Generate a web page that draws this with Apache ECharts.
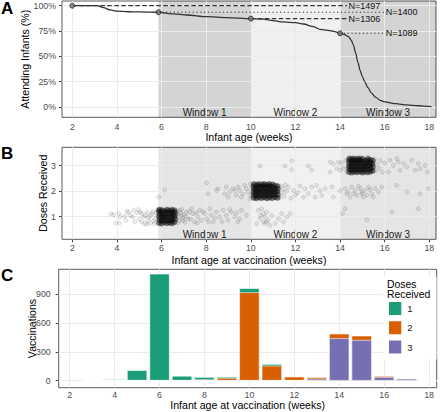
<!DOCTYPE html>
<html><head><meta charset="utf-8">
<script src="https://cdn.jsdelivr.net/npm/echarts@6/dist/echarts.min.js"></script>
<style>html,body{margin:0;padding:0;background:#fff}#c{width:440px;height:412px}</style>
</head><body><div id="c"></div>
<script>
const FONT = '"Liberation Sans", Arial, Helvetica, sans-serif';

// ---------- Panel A: attendance curve ----------
const curveWeeks = [2,2.5,3.1,3.4,3.7,4,4.5,5,5.86,6.53,7.13,8.02,8.92,10,10.55,11,11.45,12,12.36,12.8,13.1,13.47,13.77,14,14.2,14.4,14.5,14.6,14.7,14.8,14.9,15,15.1,15.25,15.4,15.6,15.8,16,16.5,17,17.5,18,18.1];
const curvePct   = [100,100,100,98,95.8,94.6,94,93.8,93.5,91.8,90.8,89.1,88.2,87.2,86.8,85.2,83.9,83.2,81.9,79.3,76.6,75.7,74.3,72.7,71.5,69,66,61,53,44,36,30,25,19,14,9.5,6.5,5,3.2,2,1.2,0.5,0.3];
const milestoneWeeks = [2, 5.86, 10, 14];
const milestonePct   = [100, 93.5, 87.2, 72.7];
const milestoneN     = [1497, 1400, 1306, 1089];
const windowNames  = ['Window 1','Window 2','Window 3'];
const windowStarts = [5.86, 10, 14];
const windowEnds   = [10, 14, 18.68];

// ---------- tick labels ----------
const xTicks  = [2,4,6,8,10,12,14,16,18];
const yTicksA = [0,25,50,75,100];
const yTicksB = [1,2,3];
const yTicksC = [0,300,600,900];

// ---------- Panel B: individual vaccinations (age, jittered dose) ----------
const dose1Pts = [[3.73,1.11],[3.85,1.08],[4.08,1.12],[4.15,0.99],[3.93,0.75],[4.11,0.75],[4.35,1.02],[4.4,0.85],[4.45,1.2],[4.53,1.18],[4.6,1.05],[4.71,0.99],[4.75,1.25],[4.8,0.8],[4.9,1.15],[4.97,1.28],[5.0,0.9],[5.05,1.18],[5.12,1.12],[5.12,0.79],[5.2,0.99],[5.24,0.73],[5.27,1.05],[5.35,1.18],[5.35,0.7],[5.39,0.86],[5.42,0.99],[5.5,1.05],[5.5,0.75],[5.57,1.12],[5.6,1.2],[5.65,0.83],[5.68,0.72],[5.72,0.92],[5.75,1.15],[5.8,1.05],[5.8,1.25],
[6.65,0.9],[6.68,1.22],[6.7,1.1],[6.72,0.76],[6.75,1.0],[6.8,0.85],[6.81,1.25],[6.85,1.15],[6.89,1.05],[6.9,1.28],[6.95,0.95],[6.96,0.86],[7.0,1.08],[7.05,0.78],[7.1,1.0],[7.11,1.18],[7.19,0.92],[7.25,1.2],[7.3,0.9],[7.34,1.31],[7.41,1.12],[7.48,0.79],[7.55,1.15],[7.6,0.75],[7.63,0.99],[7.71,1.25],[7.78,0.86],[7.85,1.2],[7.93,1.12],[8.01,0.92],[8.1,0.8],[8.16,1.31],[8.23,1.05],[8.31,0.79],[8.4,0.95],[8.46,1.18],[8.61,0.99],[8.7,0.8],[8.76,1.25],[8.9,1.05],[8.98,0.86],[9.05,1.28],[9.13,1.18],[9.28,0.99],[9.35,1.15],[9.43,0.79],[9.5,0.92],[9.58,1.25],[9.8,1.05],
[10.26,0.73],[10.34,1.25],[10.41,0.92],[10.49,1.31],[10.56,1.12],[10.56,0.79],[10.64,0.99],[10.64,0.73],[10.71,1.18],[10.79,0.86],[10.86,0.66],[10.94,1.05],[11.09,0.73],[11.24,0.92],[11.38,1.12],[11.46,0.79],[11.61,0.99],[11.76,1.12],[10.45,1.05],[10.7,0.8],
[14.12,1.12],[14.22,1.31],[15.2,0.88],[16.32,1.18],[17.51,1.31]];
const dose1Core = [[5.88,0.75],[5.9,0.87],[5.89,0.99],[5.91,1.1],[5.88,1.21],[5.9,1.28],
[6.0,0.73],[6.01,0.84],[6.0,0.95],[6.02,1.06],[6.0,1.17],[6.01,1.26],
[6.12,0.78],[6.13,0.89],[6.11,1.0],[6.13,1.12],[6.12,1.23],
[6.24,0.74],[6.25,0.85],[6.23,0.97],[6.25,1.08],[6.24,1.19],[6.25,1.28],
[6.36,0.77],[6.37,0.88],[6.35,1.01],[6.37,1.13],[6.36,1.24],
[6.47,0.74],[6.48,0.86],[6.47,0.97],[6.49,1.07],[6.48,1.18],[6.47,1.27],
[6.58,0.79],[6.6,0.92],[6.59,1.04],[6.61,1.15],[6.58,1.25]];
const dose2Pts = [[5.87,1.77],[6.14,2.06],[8.01,2.32],[8.08,1.9],[8.46,2.03],[8.53,2.1],[8.83,1.9],[8.9,2.16],[8.98,1.77],[9.05,1.97],[9.2,2.1],[9.28,2.03],[9.35,1.84],[9.43,2.16],[9.5,2.03],[9.58,1.77],[9.65,1.9],[9.73,2.23],[9.8,2.1],[9.88,1.97],[9.95,1.71],[9.98,2.28],[10.0,1.85],[10.05,2.1],
[11.3,1.75],[11.35,2.2],[11.4,1.95],[11.45,2.1],[11.5,1.8],[11.55,2.25],[11.6,2.0],[11.68,2.16],[11.8,1.72],[11.91,2.03],[12.0,1.85],[12.1,1.95],[12.2,2.2],[12.36,1.77],[12.43,2.1],[12.58,1.9],[12.73,2.16],[12.88,1.77],[12.95,2.23],[13.1,2.03],[13.18,1.84],[13.33,2.1],[13.63,2.16],[13.7,1.77],[14.0,2.03],
[14.22,2.1],[14.3,1.9],[14.37,1.97],[14.45,1.77],[14.52,2.16],[14.6,1.9],[14.67,2.03],[14.75,1.84],[14.82,2.19],[14.9,2.1],[14.97,1.9],[14.97,1.97],[15.05,1.77],[15.12,2.03],[15.2,1.84],[15.27,2.16],[15.34,2.06],[15.42,1.9],[15.49,1.77],[15.57,2.1],[15.72,1.97],[15.87,2.16],
[16.54,2.23],[16.99,1.97],[17.59,1.9],[17.96,2.1]];
const dose2Core = [[10.12,1.74],[10.13,1.86],[10.12,1.97],[10.14,2.08],[10.12,2.19],[10.13,2.28],
[10.24,1.72],[10.25,1.82],[10.23,1.93],[10.25,2.04],[10.24,2.15],[10.25,2.25],
[10.36,1.75],[10.37,1.87],[10.35,1.98],[10.37,2.09],[10.36,2.2],[10.35,2.28],
[10.48,1.73],[10.49,1.84],[10.47,1.95],[10.49,2.06],[10.48,2.17],[10.49,2.27],
[10.6,1.76],[10.61,1.87],[10.59,1.99],[10.61,2.1],[10.6,2.21],[10.6,2.28],
[10.72,1.72],[10.73,1.83],[10.71,1.94],[10.73,2.05],[10.72,2.16],[10.73,2.26],
[10.84,1.75],[10.85,1.86],[10.83,1.97],[10.85,2.08],[10.84,2.19],[10.83,2.28],
[10.96,1.73],[10.97,1.85],[10.95,1.96],[10.97,2.07],[10.96,2.18],[10.97,2.27],
[11.08,1.76],[11.09,1.88],[11.07,1.99],[11.09,2.1],[11.08,2.22],
[11.2,1.74],[11.21,1.86],[11.19,1.98],[11.21,2.09],[11.2,2.2]];
const dose3Pts = [[10.41,2.99],[11.53,2.99],[11.83,3.18],[11.83,2.84],[12.58,2.99],[12.73,2.82],[13.55,3.15],[13.55,2.75],[13.7,3.08],[13.85,2.9],[13.92,3.14],[14.0,2.82],[14.05,3.1],[14.15,2.9],[14.25,3.2],[14.3,2.78],
[15.55,3.25],[15.6,2.8],[15.65,3.05],[15.75,2.9],[15.8,3.2],[15.9,2.75],[16.0,3.1],[16.17,2.75],[16.24,3.21],[16.39,3.01],[16.54,3.28],[16.61,3.14],[16.69,2.82],[16.84,3.08],[16.99,2.95],[17.21,3.21],[17.36,2.82],[17.51,3.08],[17.59,2.88],[17.81,3.01],[17.91,2.75]];
const dose3Core = [[14.4,2.75],[14.41,2.86],[14.39,2.97],[14.41,3.08],[14.4,3.19],[14.41,3.28],
[14.52,2.73],[14.53,2.84],[14.51,2.95],[14.53,3.06],[14.52,3.17],[14.52,3.27],
[14.64,2.76],[14.65,2.87],[14.63,2.98],[14.65,3.09],[14.64,3.2],[14.63,3.28],
[14.76,2.74],[14.77,2.85],[14.75,2.96],[14.77,3.07],[14.76,3.18],[14.77,3.27],
[14.88,2.77],[14.89,2.88],[14.87,2.99],[14.89,3.1],[14.88,3.21],[14.88,3.28],
[15.0,2.73],[15.01,2.84],[15.0,2.95],[15.02,3.06],[15.0,3.17],[15.01,3.27],
[15.12,2.76],[15.13,2.87],[15.11,2.98],[15.13,3.09],[15.12,3.2],
[15.24,2.74],[15.25,2.86],[15.23,2.97],[15.25,3.08],[15.24,3.19],[15.25,3.28],
[15.36,2.77],[15.37,2.89],[15.35,3.0],[15.37,3.12],[15.36,3.23],
[15.46,2.8],[15.47,2.95],[15.45,3.07],[15.47,3.2]];

// ---------- Panel C: vaccinations per week by dose ----------
const barWeeks    = [3,4,5,6,7,8,9,10,11,12,13,14,15,16,17,18];
const dose1Counts = [4,15,110,1110,50,25,12,42,17,0,0,0,0,0,0,0];
const dose2Counts = [0,0,0,0,0,13,28,917,156,42,15,48,45,10,0,3];
const dose3Counts = [0,0,0,0,0,0,0,0,0,0,20,440,422,38,20,0];
const doseNames = ['1','2','3'];
const doseColors = ['#1B9E77','#D95F02','#7570B3'];

// ---------- layout ----------
const AX = {min:1.537, max:18.30}, AY = {min:-10.2, max:104.6};
const BX = {min:1.537, max:18.30}, BY = {min:0.114, max:3.72};
const CX = {min:1.51, max:18.34},  CY = {min:-72.7, max:1156};

const tickStyle = {show:true, length:3, lineStyle:{color:'#444', width:1}};
const labelStyle = {fontSize:8.8, color:'#4d4d4d', fontFamily:FONT};
const nameStyle = {fontSize:10.6, color:'#000', fontFamily:FONT};

function xAx(g, r, name, gap, margin){
  return {type:'value', gridIndex:g, min:r.min, max:r.max, name, nameLocation:'middle', nameGap:gap, nameMoveOverlap:false,
    nameTextStyle:nameStyle, axisLine:{show:false}, splitLine:{show:false},
    axisTick:Object.assign({customValues:xTicks}, tickStyle),
    axisLabel:Object.assign({customValues:xTicks, margin, hideOverlap:false}, labelStyle)};
}
function yAx(g, r, ticks, name, gap, margin, fmt){
  return {type:'value', gridIndex:g, min:r.min, max:r.max, name, nameLocation:'middle', nameGap:gap, nameMoveOverlap:false,
    nameTextStyle:nameStyle, axisLine:{show:false}, splitLine:{show:false},
    axisTick:Object.assign({customValues:ticks}, tickStyle),
    axisLabel:Object.assign({customValues:ticks, margin, hideOverlap:false, formatter:fmt||'{value}'}, labelStyle)};
}
function gridLines(g, yt){
  return {type:'scatter', xAxisIndex:g, yAxisIndex:g, data:[], z:2, silent:true,
    markLine:{silent:true, z:2, symbol:['none','none'], label:{show:false}, animation:false,
      lineStyle:{color:'#ebebeb', width:1, type:'solid'},
      emphasis:{disabled:true},
      data: xTicks.map(v=>({xAxis:v})).concat(yt.map(v=>({yAxis:v})))}};
}
function shading(g, dark, light){
  return {type:'scatter', xAxisIndex:g, yAxisIndex:g, data:[], z:1, silent:true, clip:true,
    markArea:{silent:true, z:1, animation:false,
      label:{show:true, position:'insideBottom', distance:0, fontSize:10, color:'#1a1a1a', fontFamily:FONT},
      data: windowNames.map((n,i)=>[
        {name:n, xAxis:windowStarts[i], itemStyle:{color: i===1 ? light : dark}},
        {xAxis:windowEnds[i]}])}};
}

const series = [];
// Panel A
series.push(shading(0, 'rgba(0,0,0,0.17)', 'rgba(0,0,0,0.06)'));
series.push(gridLines(0, yTicksA));
series.push({type:'line', xAxisIndex:0, yAxisIndex:0, z:4, showSymbol:false, smooth:0.3, smoothMonotone:'x',
  data: curveWeeks.map((w,i)=>[w, curvePct[i]]), lineStyle:{color:'#333', width:1.3}});
milestoneWeeks.forEach((w,i)=>{
  const dashed = i % 2 === 0;
  const endX = dashed ? 14.31 : 15.98;
  series.push({type:'line', xAxisIndex:0, yAxisIndex:0, z:6, showSymbol:false, clip:false,
    data:[[w, milestonePct[i]],[endX, milestonePct[i]]],
    lineStyle:{color:'#333', width: dashed ? 1.4 : 1.1, type: dashed ? [4.5,2.5] : [1.2,2.6]},
    endLabel:{show:true, formatter:'N=' + milestoneN[i], distance:1.5, fontSize:9, color:'#111', fontFamily:FONT}});
});
series.push({type:'scatter', xAxisIndex:0, yAxisIndex:0, z:7, symbolSize:5,
  data: milestoneWeeks.map((w,i)=>[w, milestonePct[i]]),
  itemStyle:{color:'#777', borderColor:'#222', borderWidth:1}});

// Panel B
series.push(shading(1, 'rgba(0,0,0,0.10)', 'rgba(0,0,0,0.055)'));
series.push(gridLines(1, yTicksB));
const sparseStyle = {color:'rgba(0,0,0,0.09)', borderColor:'rgba(0,0,0,0.28)', borderWidth:0.5};
const coreStyle = {color:'rgba(0,0,0,0.6)', borderColor:'rgba(0,0,0,0.4)', borderWidth:0.5};
[dose1Pts, dose2Pts, dose3Pts].forEach(d=>series.push({type:'scatter', xAxisIndex:1, yAxisIndex:1, z:3,
  symbolSize:4, data:d, itemStyle:sparseStyle}));
[dose1Core, dose2Core, dose3Core].forEach(d=>series.push({type:'scatter', xAxisIndex:1, yAxisIndex:1, z:3,
  symbolSize:5.5, data:d, itemStyle:coreStyle}));

// Panel C: stacked bars (dose 3 at bottom, then 2, then 1), drawn as overlapping cumulative bars
series.push(gridLines(2, yTicksC));
const counts = [dose1Counts, dose2Counts, dose3Counts];
const stackTop = k => barWeeks.map((w,i)=>{ let s = 0; for (let j = k; j < 3; j++) s += counts[j][i]; return [w, s]; });
[0,1,2].forEach(k=>series.push({type:'bar', name:doseNames[k], xAxisIndex:2, yAxisIndex:2, z:3,
  barWidth:20.2, barGap:'-100%', data: stackTop(k),
  itemStyle:{color:doseColors[k], borderColor:'#fff', borderWidth:0.6}}));

const option = {
  animation:false,
  textStyle:{fontFamily:FONT},
  title:[
    {text:'A', left:1, top:0, padding:0, textStyle:{fontSize:17, fontWeight:'bold', color:'#000', fontFamily:FONT}},
    {text:'B', left:1, top:145, padding:0, textStyle:{fontSize:17, fontWeight:'bold', color:'#000', fontFamily:FONT}},
    {text:'C', left:1, top:267, padding:0, textStyle:{fontSize:17, fontWeight:'bold', color:'#000', fontFamily:FONT}},
    {text:'Doses\nReceived', left:387, top:279, padding:0, z:10,
      textStyle:{fontSize:10.4, lineHeight:10, fontWeight:'normal', color:'#000', fontFamily:FONT}}
  ],
  graphic:[
    {type:'text', x:25, y:59.2, rotation:Math.PI/2, silent:true,
      style:{text:'Attending Infants (%)', align:'center', verticalAlign:'middle', fontSize:10.6, fontFamily:FONT, fill:'#000'}}
  ],
  legend:{orient:'vertical', left:383, top:277, padding:[23,24,4,4], itemWidth:14.3, itemHeight:15, itemGap:2.3,
    backgroundColor:'#fff', data:doseNames, icon:'rect', selectedMode:false,
    textStyle:{fontSize:9.5, color:'#1a1a1a', fontFamily:FONT}},
  grid:[
    {left:62, top:1, width:374, height:116.3, show:true, borderColor:'#5a5a5a', borderWidth:1, backgroundColor:'#fff'},
    {left:62, top:147.3, width:374, height:92, show:true, borderColor:'#5a5a5a', borderWidth:1, backgroundColor:'#fff'},
    {left:58.7, top:269.3, width:378, height:118.4, show:true, borderColor:'#5a5a5a', borderWidth:1, backgroundColor:'#fff'}
  ],
  xAxis:[
    xAx(0, AX, 'Infant age (weeks)', 14, 5),
    xAx(1, BX, 'Infant age at vaccination (weeks)', 15, 4),
    xAx(2, CX, 'Infant age at vaccination (weeks)', 12, 2.5)
  ],
  yAxis:[
    yAx(0, AY, yTicksA, '', 0, 6, '{value}%'),
    yAx(1, BY, yTicksB, 'Doses Received', 13.5, 6),
    yAx(2, CY, yTicksC, 'Vaccinations', 21, 8)
  ],
  series
};
const chart = echarts.init(document.getElementById('c'), null, {renderer:'svg'});
chart.setOption(option);
</script></body></html>
